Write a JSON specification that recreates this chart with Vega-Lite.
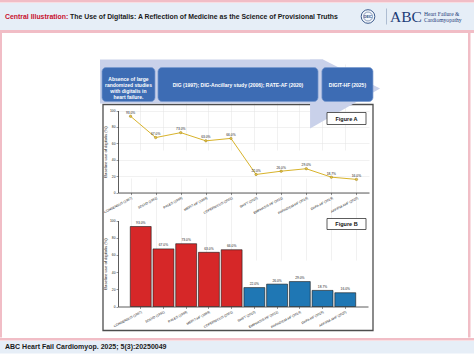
{
"$schema":"https://vega.github.io/schema/vega-lite/v6.json",
"padding":0,
"background":"#ffffff",
"spacing":0,
"bounds":"flush",
"config":{
 "view":{"stroke":null},
 "font":"Liberation Sans",
 "axis":{"labelFontSize":3.3,"titleFontSize":4.2,"titleFontWeight":"normal","labelColor":"#222222","titleColor":"#222222","tickSize":2,"tickWidth":0.5,"tickColor":"#333333","domainColor":"#333333","domainWidth":0.8,"gridColor":"#e3e3e3","gridWidth":0.5,"labelPadding":1,"titlePadding":2}
},
"datasets":{
 "trials":[
  {"trial":"CONSENSUS (1987)","pct":93,"label":"93.0%","era":"early"},
  {"trial":"SOLVD (1991)","pct":67,"label":"67.0%","era":"early"},
  {"trial":"RALES (1999)","pct":73,"label":"73.0%","era":"early"},
  {"trial":"MERIT-HF (1999)","pct":63,"label":"63.0%","era":"early"},
  {"trial":"COPERNICUS (2001)","pct":66,"label":"66.0%","era":"early"},
  {"trial":"SHIFT (2010)","pct":22,"label":"22.0%","era":"recent"},
  {"trial":"EMPHASIS-HF (2011)","pct":26,"label":"26.0%","era":"recent"},
  {"trial":"PARADIGM-HF (2014)","pct":29,"label":"29.0%","era":"recent"},
  {"trial":"DAPA-HF (2019)","pct":18.7,"label":"18.7%","era":"recent"},
  {"trial":"AFFIRM-AHF (2020)","pct":16,"label":"16.0%","era":"recent"}
 ],
 "eras":[
  {"lane":"timeline","text":["Absence of large","randomized studies","with digitalis in","heart failure."],"lines":4,"start":0.72,"end":19.93,"mid":10.3},
  {"lane":"timeline","text":"DIG (1997); DIG-Ancillary study (2006); RATE-AF (2020)","lines":1,"start":21,"end":79,"mid":50},
  {"lane":"timeline","text":"DIGIT-HF (2025)","lines":1,"start":80.4,"end":98.9,"mid":89.65}
 ],
 "arrow":[{"lane":"timeline","start":0,"end":80.8}]
},
"vconcat":[
 {"width":474,"height":2.5,"data":{"values":[{}]},"mark":{"type":"rect","color":"#f1bdc6"},"encoding":{}},
 {"width":474,"height":27,"view":{"fill":"#e6eef7"},
  "layer":[
   {"data":{"values":[{"t":"Central Illustration:"}]},"mark":{"type":"text","align":"left","fontSize":6.9,"fontWeight":"bold","color":"#c8102e"},"encoding":{"x":{"value":5},"y":{"value":13.5},"text":{"field":"t"}}},
   {"data":{"values":[{"t":"The Use of Digitalis: A Reflection of Medicine as the Science of Provisional Truths"}]},"mark":{"type":"text","align":"left","fontSize":6.9,"fontWeight":"bold","color":"#1a1a1a"},"encoding":{"x":{"value":70},"y":{"value":13.5},"text":{"field":"t"}}},
   {"data":{"values":[{"t":"DEIC"}]},"mark":{"type":"point","shape":"circle","size":185,"filled":true,"fill":"#f5f8fc","stroke":"#27487f","strokeWidth":0.9,"opacity":1},"encoding":{"x":{"value":368},"y":{"value":13.5}}},
   {"data":{"values":[{"t":"DEIC"}]},"mark":{"type":"point","shape":"circle","size":80,"filled":false,"stroke":"#27487f","strokeWidth":0.5,"opacity":1},"encoding":{"x":{"value":368},"y":{"value":13.5}}},
   {"data":{"values":[{"t":"DEIC"}]},"mark":{"type":"text","fontSize":3.4,"fontWeight":"bold","color":"#27487f"},"encoding":{"x":{"value":368},"y":{"value":13.5},"text":{"field":"t"}}},
   {"data":{"values":[{"t":"|"}]},"mark":{"type":"rule","color":"#9fb0c8","strokeWidth":0.8},"encoding":{"x":{"value":386.5},"y":{"value":5.5},"y2":{"value":21.5}}},
   {"data":{"values":[{"t":"ABC"}]},"mark":{"type":"text","align":"left","font":"Liberation Serif","fontSize":15.5,"color":"#1d3c78"},"encoding":{"x":{"value":390},"y":{"value":14},"text":{"field":"t"}}},
   {"data":{"values":[{"t":["Heart Failure &","Cardiomyopathy"]}]},"mark":{"type":"text","align":"left","font":"Liberation Serif","fontSize":5.6,"lineHeight":6.3,"dy":-3,"color":"#1d3c78"},"encoding":{"x":{"value":424},"y":{"value":13.5},"text":{"field":"t"}}}
  ]},
 {"width":474,"height":3,"data":{"values":[{}]},"mark":{"type":"rect","color":"#f1bdc6"},"encoding":{}},
 {"width":474,"height":304.5,
  "resolve":{"scale":{"x":"independent","y":"independent"},"axis":{"x":"independent","y":"independent"}},
  "layer":[
   {"data":{"values":[{"edge":"left"}]},"mark":{"type":"rect","color":"#f1bdc6"},"encoding":{"x":{"value":0},"x2":{"value":2}}},
   {"data":{"values":[{"edge":"right"}]},"mark":{"type":"rect","color":"#f1bdc6"},"encoding":{"x":{"value":468},"x2":{"value":470.5}}},
   {"data":{"values":[{"edge":"frame"}]},"mark":{"type":"rect","fill":"#ffffff","fillOpacity":0,"stroke":"#4d4d4d","strokeWidth":1.3},"encoding":{"x":{"value":103},"x2":{"value":373},"y":{"value":71.5},"y2":{"value":297.5}}},
   {"data":{"name":"trials"},
    "encoding":{
     "x":{"field":"trial","type":"nominal","sort":null,"scale":{"range":[118,369]},"axis":{"orient":"bottom","offset":-145,"labelAngle":-28,"grid":true,"title":null}},
     "y":{"field":"pct","type":"quantitative","scale":{"domain":[0,100],"range":[159.5,77.5]},"axis":{"orient":"left","offset":-118,"values":[0,20,40,60,80,100],"title":"Baseline use of digitalis (%)"}}
    },
    "layer":[
     {"mark":{"type":"line","color":"#d8b32b","strokeWidth":1}},
     {"mark":{"type":"point","filled":true,"color":"#e6c445","stroke":"#8a7010","strokeWidth":0.4,"size":6,"opacity":1}},
     {"mark":{"type":"text","fontSize":3.3,"dy":-3.5,"color":"#222222"},"encoding":{"text":{"field":"label"}}}
    ]},
   {"data":{"name":"trials"},
    "encoding":{
     "x":{"field":"trial","type":"nominal","sort":null,"scale":{"range":[118,368],"paddingInner":0.08,"paddingOuter":0.54},"axis":{"orient":"bottom","offset":-31,"labelAngle":-28,"grid":true,"title":null}},
     "y":{"field":"pct","type":"quantitative","scale":{"domain":[0,100],"range":[273.5,187.5]},"axis":{"orient":"left","offset":-118,"values":[0,20,40,60,80,100],"title":"Baseline use of digitalis (%)"}}
    },
    "layer":[
     {"mark":{"type":"bar","stroke":"#1a1a1a","strokeWidth":0.6},"encoding":{"color":{"field":"era","type":"nominal","scale":{"domain":["early","recent"],"range":["#d62728","#1f77b4"]},"legend":null}}},
     {"mark":{"type":"text","fontSize":3.3,"dy":-3.5,"color":"#222222"},"encoding":{"text":{"field":"label"}}}
    ]},
   {"resolve":{"scale":{"y":"independent"}},
    "layer":[
     {"data":{"name":"arrow"},
      "encoding":{"y":{"field":"lane","type":"nominal","scale":{"range":[26.5,70.5],"paddingInner":0,"paddingOuter":0},"axis":null}},
      "layer":[
       {"mark":{"type":"rect","color":"#c9d1ea"},"encoding":{"x":{"field":"start","type":"quantitative","scale":{"domain":[0,100],"range":[100,376]},"axis":null},"x2":{"field":"end"}}},
       {"mark":{"type":"point","shape":"M -0.37 -0.63 L 0 -0.63 L 1.63 0.2 L -0.37 1.34 Z","filled":true,"color":"#c9d1ea","opacity":1,"size":4900},"encoding":{"x":{"field":"end","type":"quantitative","axis":null}}}
      ]},
     {"data":{"name":"eras"},
      "encoding":{"y":{"field":"lane","type":"nominal","scale":{"range":[34.5,68.5],"paddingInner":0,"paddingOuter":0},"axis":null}},
      "layer":[
       {"mark":{"type":"rect","cornerRadius":4,"color":"#3d6cb4","stroke":"#7899cf","strokeWidth":0.7},"encoding":{"x":{"field":"start","type":"quantitative","axis":null},"x2":{"field":"end"}}},
       {"transform":[{"filter":"datum.lines == 1"}],"mark":{"type":"text","color":"#ffffff","fontWeight":"bold","fontSize":5},"encoding":{"x":{"field":"mid","type":"quantitative","axis":null},"text":{"field":"text"}}},
       {"transform":[{"filter":"datum.lines == 4"}],"mark":{"type":"text","color":"#ffffff","fontWeight":"bold","fontSize":5,"lineHeight":6,"dy":-6},"encoding":{"x":{"field":"mid","type":"quantitative","axis":null},"text":{"field":"text"}}}
      ]}
    ]},
   {"data":{"values":[{"fig":"Figure A"}]},"mark":{"type":"rect","fill":"#ffffff","stroke":"#333333","strokeWidth":0.8},"encoding":{"x":{"value":327},"x2":{"value":366},"y":{"value":79.5},"y2":{"value":91.5}}},
   {"data":{"values":[{"fig":"Figure A"}]},"mark":{"type":"text","fontSize":5.5,"fontWeight":"bold","color":"#111111"},"encoding":{"x":{"value":346.5},"y":{"value":85.5},"text":{"field":"fig"}}},
   {"data":{"values":[{"fig":"Figure B"}]},"mark":{"type":"rect","fill":"#ffffff","stroke":"#333333","strokeWidth":0.8},"encoding":{"x":{"value":327},"x2":{"value":366},"y":{"value":185.5},"y2":{"value":196.5}}},
   {"data":{"values":[{"fig":"Figure B"}]},"mark":{"type":"text","fontSize":5.5,"fontWeight":"bold","color":"#111111"},"encoding":{"x":{"value":346.5},"y":{"value":191},"text":{"field":"fig"}}}
  ]},
 {"width":474,"height":2.5,"data":{"values":[{}]},"mark":{"type":"rect","color":"#f1bdc6"},"encoding":{}},
 {"width":474,"height":12.5,"view":{"fill":"#e6eef7"},"data":{"values":[{"t":"ABC Heart Fail Cardiomyop. 2025; 5(3):20250049"}]},"mark":{"type":"text","align":"left","fontSize":7,"fontWeight":"bold","color":"#1a1a1a"},"encoding":{"x":{"value":5},"y":{"value":6.25},"text":{"field":"t"}}},
 {"width":474,"height":2,"data":{"values":[{}]},"mark":{"type":"rect","color":"#f1bdc6"},"encoding":{}}
]
}
